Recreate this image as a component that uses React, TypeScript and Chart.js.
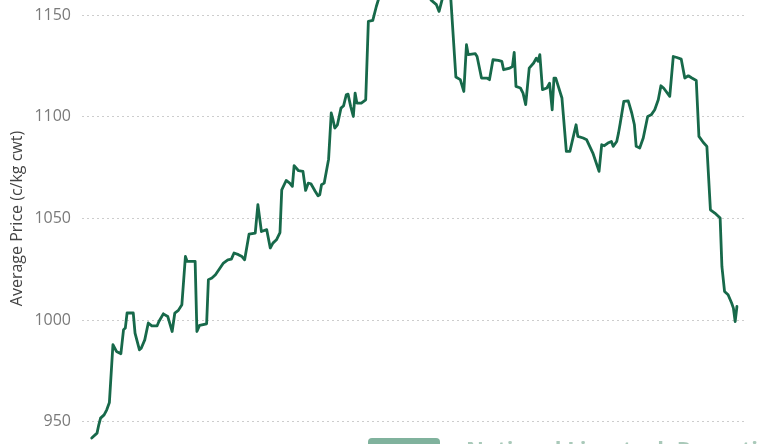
import React, { useEffect, useRef } from "react";
import { Chart, registerables } from "chart.js";

Chart.register(...registerables);

// Day offsets from the first observation
const days: number[] = [
  0, 3, 4, 5, 7, 8.5, 10, 12, 14, 16.5, 18, 19, 20, 23.5, 24.5, 27, 28, 30, 32, 34,
  37, 38, 40.5, 43, 45.5, 47, 49, 51, 53, 54, 58.5, 59.5, 61, 65, 66, 68, 70, 72.5, 74.5, 77,
  79, 80.5, 83, 85, 86.5, 89, 92.5, 94, 96, 99, 101, 102.5, 104.5, 106.5, 107.5, 110, 112, 113.5, 114.5, 117,
  119.5, 121, 122.5, 124, 126.5, 128, 129, 130, 131.5, 134, 135.5, 136.5, 137.5, 139, 141, 142.5, 144, 145, 146.5, 148,
  149, 150, 152.5, 155, 156.5, 159, 161, 163, 166.5, 170, 173, 176.5, 180, 184.5, 188.5, 192, 195, 196.5, 199.5, 203,
  206, 208.5, 210.5, 212, 213, 217, 218, 220.5, 223.5, 225, 227, 230, 232, 233, 236.5, 238, 239, 240, 242.5, 244,
  245.5, 247.5, 250, 251.5, 252.5, 253.5, 255, 257.5, 259, 260.5, 261.5, 262.5, 266, 268.5, 270.5, 274, 275, 278, 280, 283.5,
  287, 288.5, 290, 292, 294, 295, 297, 298, 299, 301, 303.5, 305.5, 307, 308, 310, 312, 314.5, 316.5, 318.5, 320.5,
  322, 323.5, 327, 329, 331, 333.5, 335.5, 337.5, 339.5, 342, 343.5, 346, 348, 350, 352.5, 355.5, 356.5, 358, 360, 362,
  363, 364, 365,
];

// Average price, c/kg cwt
const prices: number[] = [
  942.0, 944.4, 948.5, 951.8, 953.4, 955.9, 959.5, 987.9, 984.6, 983.5, 995.3, 996.1, 1003.5, 1003.5, 993.6, 985.4, 986.2, 990.3, 998.6, 997.2,
  997.2, 999.3, 1003.1, 1001.8, 994.4, 1003.5, 1004.8, 1007.6, 1031.3, 1028.9, 1028.9, 994.4, 997.4, 998.2, 1019.9, 1020.7, 1022.3, 1025.5, 1028.1, 1029.7,
  1030.0, 1033.0, 1032.2, 1031.3, 1029.7, 1042.3, 1042.8, 1056.8, 1043.6, 1044.5, 1035.5, 1037.9, 1039.5, 1043.1, 1064.1, 1068.7, 1067.4, 1065.8, 1076.0, 1073.5,
  1073.2, 1063.8, 1067.4, 1067.1, 1063.3, 1061.2, 1061.7, 1066.6, 1067.4, 1079.2, 1101.9, 1098.6, 1094.5, 1096.1, 1104.3, 1105.5, 1110.9, 1111.2, 1105.1, 1100.2,
  1111.7, 1106.8, 1106.8, 1108.4, 1147.0, 1147.5, 1154.3, 1160, 1166, 1171, 1168, 1176, 1172, 1169, 1164, 1157.4, 1155.2, 1151.9, 1162, 1160,
  1119.6, 1118.3, 1112.5, 1135.5, 1130.6, 1131.1, 1129.7, 1119.1, 1119.1, 1118.3, 1128.1, 1127.8, 1127.3, 1123.2, 1124.0, 1124.8, 1131.7, 1115.0, 1114.2, 1111.7,
  1106.0, 1124.0, 1126.5, 1128.9, 1127.3, 1130.6, 1113.4, 1114.2, 1116.6, 1103.5, 1119.1, 1119.1, 1109.3, 1083.0, 1083.0, 1096.1, 1090.4, 1089.6, 1088.7, 1082.2,
  1073.2, 1086.3, 1085.8, 1087.1, 1087.9, 1085.5, 1087.9, 1092.0, 1097.0, 1107.6, 1107.9, 1101.9, 1096.1, 1085.5, 1084.7, 1089.6, 1100.2, 1101.0, 1103.5, 1108.4,
  1115.3, 1114.2, 1110.1, 1129.7, 1129.2, 1128.4, 1119.1, 1120.2, 1119.1, 1117.9, 1090.4, 1087.4, 1085.5, 1054.3, 1052.7, 1050.2, 1026.4, 1014.1, 1012.5, 1008.4,
  1005.9, 999.3, 1006.7,
];

const yTicks: number[] = [900, 950, 1000, 1050, 1100, 1150, 1200];
const yTitle = "Average Price (c/kg cwt)";
const watermark = "National Livestock Reporting Service";

const W = 765;
const Y1150 = 15.5;
const Y950 = 422;

export default function App() {
  const wrapRef = useRef<HTMLDivElement | null>(null);
  const canvasRef = useRef<HTMLCanvasElement | null>(null);

  useEffect(() => {
    document.body.style.margin = "0";
    const canvas = canvasRef.current!;
    const wrap = wrapRef.current!;

    const make = (h: number) => {
      canvas.width = W;
      canvas.height = h;
      canvas.style.width = W + "px";
      canvas.style.height = h + "px";
      wrap.style.height = h + "px";
      return new Chart(canvas, {
        type: "line",
        data: {
          datasets: [
            {
              data: days.map((d, i) => ({ x: d, y: prices[i] })),
              borderColor: "#17694a",
              borderWidth: 2.8,
              pointRadius: 0,
              tension: 0,
              borderJoinStyle: "round",
              borderCapStyle: "round",
              fill: false,
            },
          ],
        },
        options: {
          animation: false,
          responsive: false,
          maintainAspectRatio: false,
          devicePixelRatio: 1,
          layout: { padding: { left: 0, right: W - 744, top: 0, bottom: 0 } },
          plugins: { legend: { display: false }, tooltip: { enabled: false } },
          scales: {
            x: { type: "linear", min: -5.5, max: 369, display: false },
            y: {
              min: yTicks[0],
              max: yTicks[yTicks.length - 1],
              afterBuildTicks: (s: any) => {
                s.ticks = yTicks.map((v) => ({ value: v }));
              },
              afterFit: (s: any) => {
                s.width = 82;
              },
              border: { display: false, dash: [2, 3] },
              grid: { color: "#cdcdcd", lineWidth: 1, drawTicks: false },
              ticks: {
                padding: 11,
                color: "#7a7a7a",
                font: { family: "'Open Sans', sans-serif", size: 16 },
                callback: (v: any) => String(v),
              },
              title: {
                display: true,
                text: yTitle,
                color: "#444444",
                padding: { top: 8, bottom: 0 },
                font: { family: "'Open Sans', sans-serif", size: 16, lineHeight: 1.2 },
              },
            },
          },
        },
      });
    };

    let h = 700;
    let chart = make(h);
    const y0 = chart.scales.y;
    const span = y0.getPixelForValue(950) - y0.getPixelForValue(1150);
    const ratio = (yTicks[yTicks.length - 1] - yTicks[0]) / 200;
    h = Math.round(h + ((Y950 - Y1150) - span) * ratio);
    chart.destroy();
    chart = make(h);
    const top = Y1150 - chart.scales.y.getPixelForValue(1150);
    wrap.style.top = top + "px";

    return () => {
      chart.destroy();
    };
  }, []);

  return (
    <>
      <div ref={wrapRef} style={{ position: "fixed", left: 0, top: 0, width: W }}>
        <canvas ref={canvasRef} />
      </div>
      <div
        style={{
          position: "fixed",
          left: 368,
          top: 438,
          width: 72,
          height: 24,
          borderRadius: 4,
          background: "#80b29d",
        }}
      />
      <div
        style={{
          position: "fixed",
          left: 466,
          top: 437,
          fontFamily: "'Open Sans', sans-serif",
          fontWeight: 700,
          fontSize: 22,
          lineHeight: "22px",
          color: "#a9c9b9",
          whiteSpace: "nowrap",
        }}
      >
        {watermark}
      </div>
    </>
  );
}
